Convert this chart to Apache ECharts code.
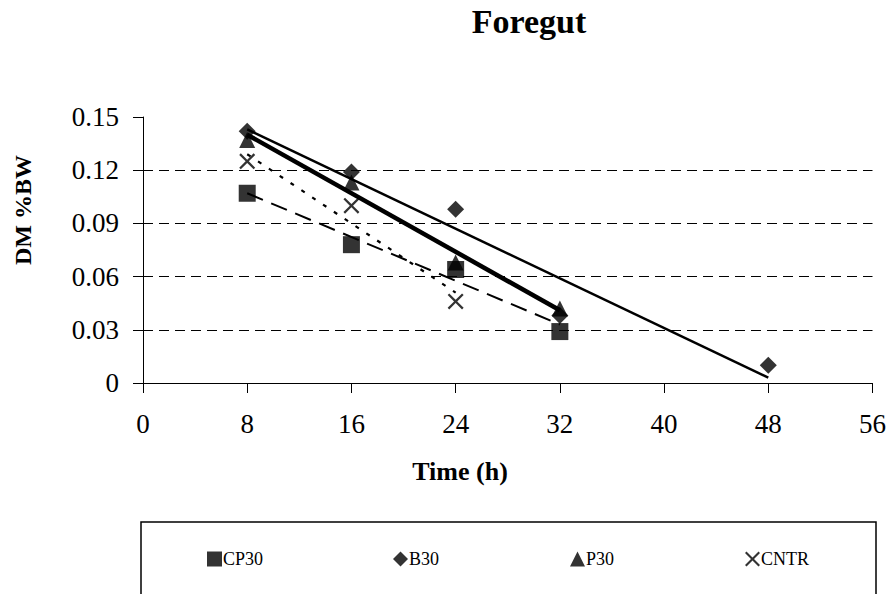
<!DOCTYPE html>
<html><head><meta charset="utf-8">
<script src="https://cdn.jsdelivr.net/npm/echarts@6/dist/echarts.min.js"></script>
<style>html,body{margin:0;padding:0;background:#fff}#c{width:889px;height:594px}</style>
</head><body><div id="c"></div>
<script>
// ---- data ----
const xTicks = [0, 8, 16, 24, 32, 40, 48, 56];
const yTicks = [0, 0.03, 0.06, 0.09, 0.12, 0.15];
const gridValues = [0.03, 0.06, 0.09, 0.12];

const seriesNames = ['CP30', 'B30', 'P30', 'CNTR'];

const cp30Time = [8, 16, 24, 32];
const cp30Values = [0.107, 0.078, 0.064, 0.029];
const b30Time = [8, 16, 24, 32, 48];
const b30Values = [0.142, 0.119, 0.098, 0.038, 0.010];
const p30Time = [8, 16, 24, 32];
const p30Values = [0.137, 0.113, 0.068, 0.042];
const cntrTime = [8, 16, 24];
const cntrValues = [0.125, 0.100, 0.046];

// linear trend lines (end points)
const cp30TrendTime = [8, 32];
const cp30TrendValues = [0.107, 0.033];
const b30TrendTime = [8, 48];
const b30TrendValues = [0.143, 0.003];
const p30TrendTime = [8, 32];
const p30TrendValues = [0.140, 0.041];
const cntrTrendTime = [8, 24];
const cntrTrendValues = [0.129, 0.051];

// ---- chart ----
const FONT = "'Liberation Serif', 'Times New Roman', serif";
const X_PATH = 'path://M0,10L10,0L50,40L90,0L100,10L60,50L100,90L90,100L50,60L10,100L0,90L40,50Z';
const pairs = (xs, ys) => xs.map((x, i) => [x, ys[i]]);

const chart = echarts.init(document.getElementById('c'), null, {renderer: 'svg'});

function trend(xs, ys, width, type) {
  return {
    type: 'line', data: pairs(xs, ys), symbol: 'none', silent: true, z: 3,
    lineStyle: {color: '#000', width: width, type: type}, animation: false
  };
}
function legendAt(left, name, icon) {
  return {
    left: left, top: 550, padding: 0, itemWidth: 15, itemHeight: 15,
    data: [{name: name, icon: icon}],
    textStyle: {fontFamily: FONT, fontSize: 18, color: '#000', padding: [0, 0, 0, -4]},
    selectedMode: false
  };
}

chart.setOption({
  animation: false,
  backgroundColor: '#fff',
  title: {
    text: 'Foregut', left: 529, top: 4, textAlign: 'center', padding: 0,
    textStyle: {fontFamily: FONT, fontSize: 34, fontWeight: 'bold', color: '#000'}
  },
  grid: {left: 143, right: 16, top: 117, bottom: 211, containLabel: false},
  xAxis: {
    type: 'value', min: xTicks[0], max: xTicks[xTicks.length - 1], interval: 8,
    axisLine: {show: true, onZero: false, lineStyle: {color: '#000', width: 1}},
    axisTick: {show: true, inside: false, length: 10, lineStyle: {color: '#000'}},
    axisLabel: {margin: 27, fontFamily: FONT, fontSize: 27, color: '#000'},
    splitLine: {show: false}
  },
  yAxis: {
    type: 'value', min: yTicks[0], max: yTicks[yTicks.length - 1], interval: 0.03,
    axisLine: {show: true, lineStyle: {color: '#000', width: 1}},
    axisTick: {show: true, inside: false, length: 10, lineStyle: {color: '#000'}},
    axisLabel: {margin: 24, fontFamily: FONT, fontSize: 27, color: '#000',
      formatter: v => String(+v.toFixed(2))},
    splitLine: {show: false}
  },
  legend: [
    legendAt(207, seriesNames[0], 'rect'),
    legendAt(393, seriesNames[1], 'diamond'),
    legendAt(570, seriesNames[2], 'triangle'),
    legendAt(745, seriesNames[3], X_PATH)
  ],
  graphic: [
    {type: 'rect', shape: {x: 141, y: 522, width: 735, height: 100}, silent: true,
      style: {fill: 'none', stroke: '#000', lineWidth: 1.5}},
    {type: 'text', x: 460, y: 471, silent: true,
      style: {text: 'Time (h)', fontFamily: FONT, fontSize: 26, fontWeight: 'bold', fill: '#000',
        textAlign: 'center', textVerticalAlign: 'middle'}},
    {type: 'text', x: 23, y: 210, rotation: Math.PI / 2, silent: true,
      style: {text: 'DM %BW', fontFamily: FONT, fontSize: 24, fontWeight: 'bold', fill: '#000',
        textAlign: 'center', textVerticalAlign: 'middle'}}
  ],
  series: [
    {
      name: 'grid', type: 'line', data: [], silent: true, z: 1,
      markLine: {
        silent: true, symbol: 'none', label: {show: false}, animation: false,
        lineStyle: {color: '#000', width: 1, type: [10, 6]},
        data: gridValues.map(v => ({yAxis: v}))
      }
    },
    trend(cp30TrendTime, cp30TrendValues, 2, [17, 9]),
    trend(b30TrendTime, b30TrendValues, 2.5, 'solid'),
    trend(p30TrendTime, p30TrendValues, 4.5, 'solid'),
    trend(cntrTrendTime, cntrTrendValues, 2.2, [4, 9]),
    {name: seriesNames[0], type: 'scatter', data: pairs(cp30Time, cp30Values),
      symbol: 'rect', symbolSize: 17, itemStyle: {color: '#000'}, z: 4},
    {name: seriesNames[1], type: 'scatter', data: pairs(b30Time, b30Values),
      symbol: 'diamond', symbolSize: 17, itemStyle: {color: '#000'}, z: 4},
    {name: seriesNames[2], type: 'scatter', data: pairs(p30Time, p30Values),
      symbol: 'triangle', symbolSize: 16, itemStyle: {color: '#000'}, z: 4},
    {name: seriesNames[3], type: 'scatter', data: pairs(cntrTime, cntrValues),
      symbol: X_PATH, symbolSize: 16, itemStyle: {color: '#000'}, z: 4}
  ]
});
</script>
</body></html>
